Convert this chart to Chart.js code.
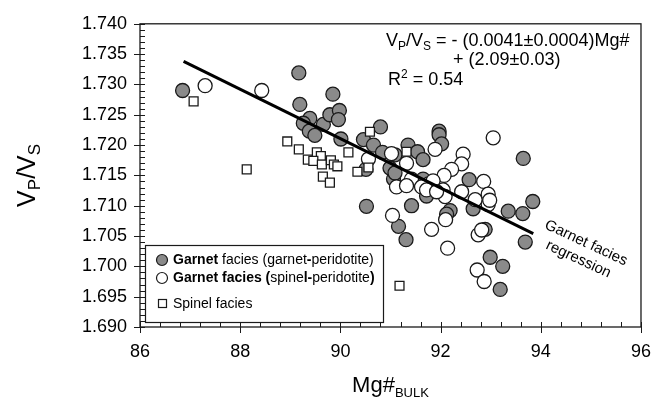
<!DOCTYPE html>
<html lang="en">
<head>
<meta charset="UTF-8">
<title>Vp/Vs vs Mg# bulk</title>
<script src="https://cdn.jsdelivr.net/npm/chart.js"></script>
<style>
  html, body { margin: 0; padding: 0; background: #fff; }
  #wrap { position: relative; width: 665px; height: 405px; }
</style>
</head>
<body>
<div id="wrap"><canvas id="chart"></canvas></div>
<script>
  // Garnet facies (garnet-peridotite), grey circles
  const garnetMg = [86.85, 89.17, 89.19, 89.85, 89.39, 89.26, 89.38, 89.49, 89.66, 89.79, 89.98, 89.96, 90.01, 90.80, 90.46, 90.66, 90.84, 90.51, 90.99, 91.06, 91.35, 91.54, 91.65, 91.97, 91.97, 92.02, 91.09, 91.09, 91.65, 92.57, 93.65, 91.72, 92.65, 93.35, 93.64, 93.84, 91.42, 91.16, 91.31, 92.19, 92.12, 92.89, 93.69, 92.99, 93.24, 93.19, 90.52];
  const garnetVpVs = [1.7290, 1.7319, 1.7267, 1.7284, 1.7244, 1.7236, 1.7223, 1.7216, 1.7234, 1.7250, 1.7257, 1.7242, 1.7210, 1.7230, 1.7209, 1.7200, 1.7188, 1.7160, 1.7162, 1.7144, 1.7200, 1.7189, 1.7176, 1.7223, 1.7217, 1.7202, 1.7184, 1.7154, 1.7144, 1.7143, 1.7178, 1.7116, 1.7095, 1.7091, 1.7087, 1.7107, 1.7100, 1.7066, 1.7044, 1.7092, 1.7086, 1.7061, 1.7040, 1.7015, 1.7000, 1.6962, 1.7099];

  // Garnet facies (spinel-peridotite), white circles
  const spinelPerMg = [87.30, 88.43, 90.56, 91.02, 91.32, 91.89, 92.45, 92.42, 92.22, 92.07, 91.76, 93.05, 92.86, 91.42, 91.85, 91.12, 91.32, 91.62, 91.72, 92.05, 92.09, 91.92, 92.42, 92.69, 92.95, 92.95, 92.98, 91.04, 91.82, 92.10, 92.14, 92.75, 92.82, 92.73, 92.87];
  const spinelPerVpVs = [1.7298, 1.7290, 1.7177, 1.7186, 1.7170, 1.7193, 1.7185, 1.7169, 1.7160, 1.7150, 1.7136, 1.7212, 1.7140, 1.7144, 1.7141, 1.7131, 1.7133, 1.7131, 1.7126, 1.7126, 1.7115, 1.7123, 1.7123, 1.7110, 1.7119, 1.7102, 1.7109, 1.7084, 1.7061, 1.7077, 1.7030, 1.7052, 1.7060, 1.6994, 1.6975];

  // Spinel facies, squares
  const spinelMg = [87.07, 88.13, 88.94, 89.17, 89.53, 89.61, 89.35, 89.46, 89.63, 89.81, 89.87, 89.94, 90.16, 89.65, 89.79, 90.59, 90.34, 90.56, 91.32, 91.18];
  const spinelVpVs = [1.7272, 1.7160, 1.7206, 1.7193, 1.7188, 1.7182, 1.7176, 1.7174, 1.7168, 1.7175, 1.7168, 1.7165, 1.7188, 1.7148, 1.7138, 1.7222, 1.7156, 1.7163, 1.7189, 1.6968];

  // garnet facies regression line end points
  const regMg = [86.87, 93.85];
  const regVpVs = [1.7338, 1.7054];

  const xTicks = [86, 88, 90, 92, 94, 96];
  const yTicks = [1.690, 1.695, 1.700, 1.705, 1.710, 1.715, 1.720, 1.725, 1.730, 1.735, 1.740];

  const FONT = '"Liberation Sans", Arial, Helvetica, sans-serif';
  const GREY = '#8a8a8a';
  const EDGE = '#1a1a1a';

  const pts = (xs, ys) => xs.map((x, i) => ({ x: x, y: ys[i] }));

  // draw a row of text pieces: {t, size, bold, dy}
  function drawRuns(ctx, x, y, runs) {
    runs.forEach(r => {
      ctx.font = (r.bold ? 'bold ' : '') + r.size + 'px ' + FONT;
      ctx.fillText(r.t, x, y + (r.dy || 0));
      x += ctx.measureText(r.t).width;
    });
    return x;
  }

  const axisDecor = {
    id: 'axisDecor',
    afterDraw(chart) {
      const ctx = chart.ctx, a = chart.chartArea;
      const xs = chart.scales.x, ys = chart.scales.y;
      ctx.save();

      // legend box
      ctx.fillStyle = '#fff';
      ctx.strokeStyle = EDGE;
      ctx.lineWidth = 1.2;
      ctx.fillRect(145.5, 245.5, 238, 77);
      ctx.strokeRect(145.5, 245.5, 238, 77);

      ctx.fillStyle = GREY;
      ctx.beginPath(); ctx.arc(162, 260, 5.5, 0, Math.PI * 2); ctx.fill(); ctx.stroke();
      ctx.fillStyle = '#fff';
      ctx.beginPath(); ctx.arc(162, 278, 5.5, 0, Math.PI * 2); ctx.fill(); ctx.stroke();
      ctx.strokeRect(158.5, 299.5, 8, 8);

      ctx.fillStyle = '#000';
      ctx.textBaseline = 'middle';
      ctx.textAlign = 'left';
      drawRuns(ctx, 173, 260, [
        { t: 'Garnet', size: 14, bold: true }, { t: ' facies (garnet', size: 14 },
        { t: '-', size: 14, bold: true }, { t: 'peridotite)', size: 14 }]);
      drawRuns(ctx, 173, 278, [
        { t: 'Garnet facies (', size: 14, bold: true }, { t: 'spine', size: 14 },
        { t: 'l-', size: 14, bold: true }, { t: 'peridotite', size: 14 }, { t: ')', size: 14, bold: true }]);
      drawRuns(ctx, 173, 304, [{ t: 'Spinel facies', size: 14 }]);

      // frame
      ctx.strokeStyle = EDGE;
      ctx.lineWidth = 1.3;
      ctx.strokeRect(a.left, a.top, a.right - a.left, a.bottom - a.top);

      // ticks: majors cross the axis, minors inside only
      ctx.lineWidth = 1;
      ctx.beginPath();
      for (let k = 0; k <= 25; k++) {
        const v = 86 + k * 0.4;
        const px = Math.round(xs.getPixelForValue(v)) + 0.5;
        const major = k % 5 === 0;
        ctx.moveTo(px, a.bottom - 5);
        ctx.lineTo(px, a.bottom + (major ? 6 : 0));
      }
      for (let k = 0; k <= 50; k++) {
        const v = 1.690 + k * 0.001;
        const py = Math.round(ys.getPixelForValue(v)) + 0.5;
        const major = k % 5 === 0;
        ctx.moveTo(a.left + 5, py);
        ctx.lineTo(a.left - (major ? 6 : 0), py);
      }
      ctx.stroke();

      // axis titles
      ctx.fillStyle = '#000';
      ctx.textBaseline = 'alphabetic';
      ctx.font = '22px ' + FONT;
      let w1 = ctx.measureText('Mg#').width;
      ctx.font = '13px ' + FONT;
      let w2 = ctx.measureText('BULK').width;
      const cx = (a.left + a.right) / 2;
      drawRuns(ctx, cx - (w1 + w2) / 2, 392, [{ t: 'Mg#', size: 22 }, { t: 'BULK', size: 13, dy: 5 }]);

      ctx.save();
      ctx.translate(35, (a.top + a.bottom) / 2);
      ctx.rotate(-Math.PI / 2);
      const yt = [{ t: 'V', size: 25 }, { t: 'P', size: 17, dy: 5 }, { t: '/V', size: 25 }, { t: 'S', size: 17, dy: 5 }];
      let tw = 0;
      yt.forEach(r => { ctx.font = r.size + 'px ' + FONT; tw += ctx.measureText(r.t).width; });
      drawRuns(ctx, -tw / 2, 0, yt);
      ctx.restore();

      // regression equation
      drawRuns(ctx, 386, 46, [
        { t: 'V', size: 18 }, { t: 'P', size: 12, dy: 4 }, { t: '/V', size: 18 }, { t: 'S', size: 12, dy: 4 },
        { t: ' = - (0.0041\u00b10.0004)Mg#', size: 18 }]);
      drawRuns(ctx, 453, 65, [{ t: '+ (2.09\u00b10.03)', size: 18 }]);
      drawRuns(ctx, 388, 85, [{ t: 'R', size: 18 }, { t: '2', size: 12, dy: -7 }, { t: ' = 0.54', size: 18 }]);

      // regression label
      ctx.save();
      ctx.translate(586, 243);
      ctx.rotate(25 * Math.PI / 180);
      ctx.textAlign = 'center';
      ctx.textBaseline = 'middle';
      ctx.font = '15px ' + FONT;
      ctx.fillText('Garnet facies', 0, 0);
      ctx.fillText('regression', 0, 18);
      ctx.restore();

      ctx.restore();
    }
  };

  new Chart(document.getElementById('chart'), {
    type: 'scatter',
    data: {
      datasets: [
        {
          label: 'Garnet facies regression',
          data: pts(regMg, regVpVs),
          showLine: true,
          borderColor: '#000',
          borderWidth: 3,
          pointRadius: 0,
          order: 0
        },
        {
          label: 'Spinel facies',
          data: pts(spinelMg, spinelVpVs),
          pointStyle: 'rect',
          pointRadius: 6.3,
          backgroundColor: '#fff',
          borderColor: EDGE,
          borderWidth: 1.3,
          order: 1
        },
        {
          label: 'Garnet facies (spinel-peridotite)',
          data: pts(spinelPerMg, spinelPerVpVs),
          pointRadius: 7,
          backgroundColor: '#fff',
          borderColor: EDGE,
          borderWidth: 1.3,
          order: 2
        },
        {
          label: 'Garnet facies (garnet-peridotite)',
          data: pts(garnetMg, garnetVpVs),
          pointRadius: 7,
          backgroundColor: GREY,
          borderColor: EDGE,
          borderWidth: 1.3,
          order: 3
        }
      ]
    },
    options: {
      responsive: true,
      maintainAspectRatio: false,
      animation: false,
      layout: { padding: { left: 0, top: 12, right: 24, bottom: 0 } },
      plugins: { legend: { display: false }, tooltip: { enabled: false } },
      scales: {
        x: {
          type: 'linear',
          min: 86, max: 96,
          grid: { display: false, drawTicks: false },
          border: { display: false },
          afterBuildTicks: s => { s.ticks = xTicks.map(v => ({ value: v })); },
          afterFit: s => { s.height = 78; },
          ticks: {
            padding: 14,
            color: '#000',
            font: { family: FONT, size: 18 },
            callback: v => String(v)
          }
        },
        y: {
          type: 'linear',
          min: 1.690, max: 1.740,
          grid: { display: false, drawTicks: false },
          border: { display: false },
          afterBuildTicks: s => { s.ticks = yTicks.map(v => ({ value: v })); },
          afterFit: s => { s.width = 140; },
          ticks: {
            padding: 13,
            color: '#000',
            font: { family: FONT, size: 18 },
            callback: v => Number(v).toFixed(3)
          }
        }
      }
    },
    plugins: [axisDecor]
  });
</script>
</body>
</html>
